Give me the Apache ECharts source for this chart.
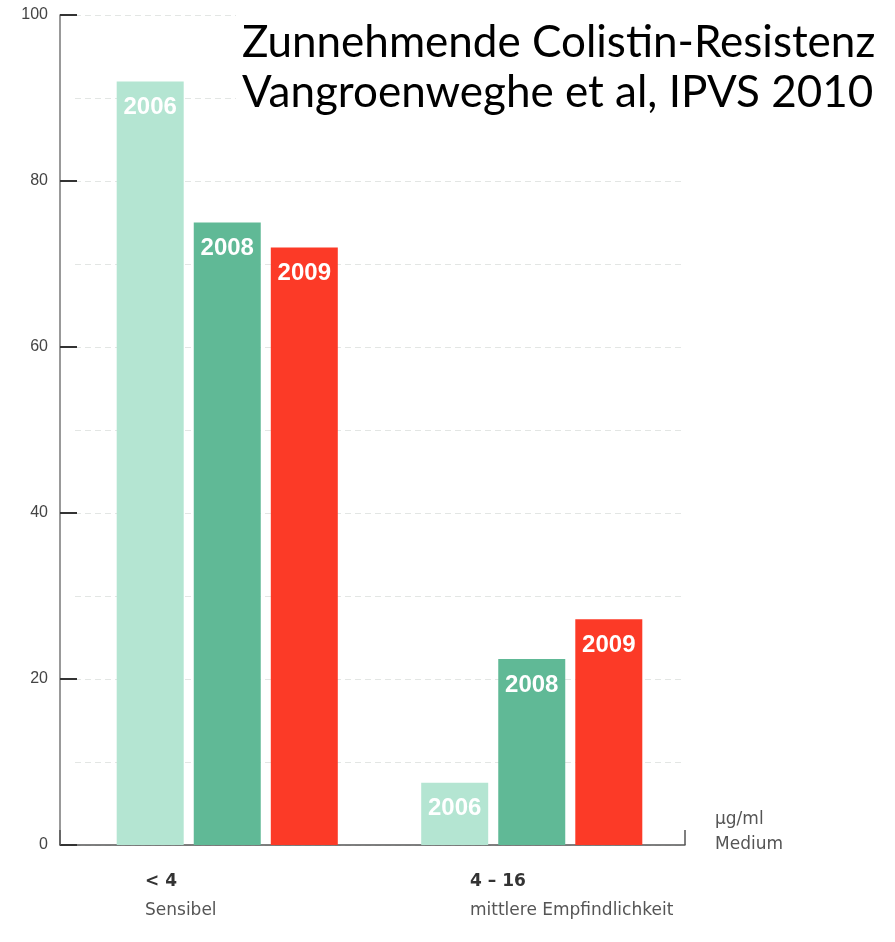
<!DOCTYPE html>
<html>
<head>
<meta charset="utf-8">
<style>
  html, body { margin: 0; padding: 0; background: #ffffff; }
  #chart { width: 895px; height: 942px; }
</style>
<script src="https://cdn.jsdelivr.net/npm/echarts@6/dist/echarts.min.js"></script>
</head>
<body>
<div id="chart"></div>
<script>
// data
const categories = ['< 4', '4 – 16'];
const categorySubs = ['Sensibel', 'mittlere Empfindlichkeit'];
const years = ['2006', '2008', '2009'];
const values2006 = [92, 7.5];
const values2008 = [75, 22.4];
const values2009 = [72, 27.2];
const yTicks = [0, 20, 40, 60, 80, 100];

const colors = ['#b4e5d2', '#60b996', '#fc3a27'];
const seriesValues = [values2006, values2008, values2009];

const chart = echarts.init(document.getElementById('chart'));

const gridTop = 15;
const gridHeight = 830;

let series = years.map(function (y, i) {
  return {
    name: y,
    type: 'bar',
    xAxisIndex: 1,
    yAxisIndex: 1,
    barWidth: 67,
    barGap: '15%',
    data: seriesValues[i],
    itemStyle: { color: colors[i] },
    label: {
      show: true,
      position: 'insideTop',
      distance: 14,
      formatter: y,
      color: '#ffffff',
      fontSize: 24,
      fontWeight: 'bold',
      fontFamily: 'Liberation Sans'
    },
    z: 3
  };
});

let option = {
  backgroundColor: '#ffffff',
  animation: false,
  title: {
    text: 'Zunnehmende Colistin-Resistenz\nVangroenweghe et al, IPVS 2010',
    left: 236,
    top: 14,
    backgroundColor: '#ffffff',
    padding: [4, 6],
    textStyle: {
      fontFamily: 'Lato',
      fontSize: 44,
      fontWeight: 'normal',
      lineHeight: 50,
      color: '#000000'
    }
  },
  grid: [
    // frame: y axis + baseline
    { left: 60, top: gridTop, width: 625, height: gridHeight },
    // bars
    { left: 75, top: gridTop, width: 609, height: gridHeight },
    // category labels
    { left: 145, top: gridTop, width: 325, height: gridHeight }
  ],
  xAxis: [
    {
      gridIndex: 0,
      type: 'value',
      min: 0,
      max: 1,
      interval: 1,
      // trailing blank line lifts the two-line unit label above the baseline
      name: 'µg/ml\nMedium\n ',
      nameLocation: 'end',
      nameGap: 30,
      nameTextStyle: {
        fontFamily: 'DejaVu Sans',
        fontSize: 17,
        color: '#555555',
        lineHeight: 25,
        align: 'left',
        verticalAlign: 'middle'
      },
      axisLine: { show: true, onZero: false, lineStyle: { color: '#555555', width: 1.5 } },
      axisTick: { show: true, inside: true, length: 15, lineStyle: { color: '#555555', width: 1.5 } },
      axisLabel: { show: false },
      splitLine: { show: false }
    },
    {
      gridIndex: 1,
      type: 'category',
      data: categories,
      axisLine: { show: false },
      axisTick: { show: false },
      axisLabel: { show: false }
    },
    {
      gridIndex: 2,
      type: 'category',
      boundaryGap: false,
      data: categories,
      axisLine: { show: false },
      axisTick: { show: false },
      axisLabel: {
        show: true,
        align: 'left',
        margin: 22,
        interval: 0,
        formatter: function (v, i) {
          return '{a|' + v + '}\n{b|' + categorySubs[i] + '}';
        },
        rich: {
          a: { fontFamily: 'DejaVu Sans', fontSize: 17, fontWeight: 'bold', color: '#333333', lineHeight: 29, align: 'left' },
          b: { fontFamily: 'DejaVu Sans', fontSize: 17, color: '#555555', lineHeight: 29, align: 'left' }
        }
      }
    }
  ],
  yAxis: [
    {
      gridIndex: 0,
      type: 'value',
      min: 0,
      max: 100,
      interval: 20,
      axisLine: { show: true, lineStyle: { color: '#777777', width: 1.5 } },
      axisTick: { show: true, inside: true, length: 17, lineStyle: { color: '#333333', width: 2 } },
      axisLabel: {
        margin: 12,
        color: '#444444',
        fontSize: 16,
        fontFamily: 'Liberation Sans',
        formatter: function (v) { return yTicks.indexOf(v) >= 0 ? String(v) : ''; }
      },
      splitLine: { show: false }
    },
    {
      gridIndex: 1,
      type: 'value',
      min: 0,
      max: 100,
      interval: 10,
      axisLine: { show: false },
      axisTick: { show: false },
      axisLabel: { show: false },
      splitLine: { show: true, lineStyle: { color: '#e3e6e4', width: 1, type: [6, 4] } }
    },
    {
      gridIndex: 2,
      type: 'value',
      min: 0,
      max: 100,
      show: false
    }
  ],
  series: series
};

chart.setOption(option);
</script>
</body>
</html>
